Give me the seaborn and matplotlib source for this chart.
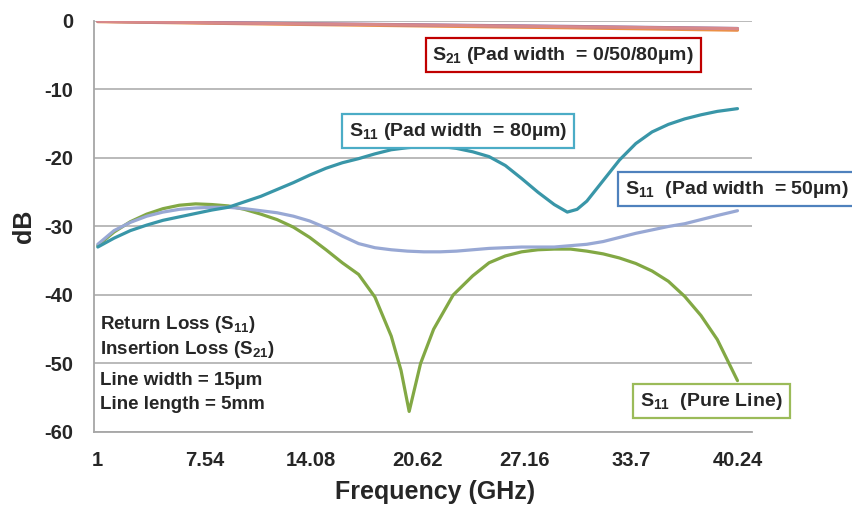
import numpy as np
import pandas as pd
import matplotlib
matplotlib.use("Agg")
import matplotlib.pyplot as plt
import seaborn as sns

# S-parameter sweep values (dB)
freq_ticks = [1, 7.54, 14.08, 20.62, 27.16, 33.7, 40.24]
tick_labels = ["1", "7.54", "14.08", "20.62", "27.16", "33.7", "40.24"]

f_pure = [1, 2, 3, 4, 5, 6, 7, 8, 9, 10, 11, 12, 13, 14, 15, 16, 17, 18, 19, 19.6,
          20.1, 20.8, 21.6, 22.8, 24, 25, 26, 27, 28, 29, 30, 31, 32, 33, 34, 35,
          36, 37, 38, 39, 40.24]
s11_pure = [-32.8, -30.8, -29.3, -28.2, -27.4, -26.9, -26.7, -26.8, -27.0, -27.5,
            -28.2, -29.0, -30.1, -31.6, -33.4, -35.3, -37.0, -40.3, -46.0, -51.0,
            -57.0, -50.0, -45.0, -40.0, -37.2, -35.3, -34.3, -33.7, -33.4, -33.3,
            -33.3, -33.6, -34.0, -34.6, -35.4, -36.5, -38.0, -40.2, -43.0, -46.5,
            -52.5]

f_pad80 = [1, 2, 3, 4, 5, 6, 7, 8, 9, 10, 11, 12, 13, 14, 15, 16, 17, 18, 19, 20,
           21, 22, 23, 24, 25, 26, 27, 28, 29, 29.8, 30.4, 31, 32, 33, 34, 35, 36,
           37, 38, 39, 40.24]
s11_pad80 = [-33.0, -31.7, -30.6, -29.8, -29.1, -28.6, -28.1, -27.6, -27.2, -26.4,
             -25.6, -24.6, -23.6, -22.5, -21.5, -20.7, -20.1, -19.4, -18.8, -18.5,
             -18.3, -18.3, -18.6, -19.1, -19.8, -21.1, -23.0, -25.0, -26.8, -27.9,
             -27.5, -26.3, -23.3, -20.3, -17.9, -16.2, -15.1, -14.3, -13.7, -13.2,
             -12.8]

f_pad50 = [1, 2, 3, 4, 5, 6, 7, 8, 9, 10, 11, 12, 13, 14, 15, 16, 17, 18, 19, 20,
           21, 22, 23, 24, 25, 26, 27, 28, 29, 30, 31, 32, 33, 34, 35, 36, 37, 38,
           39, 40.24]
s11_pad50 = [-32.6, -30.6, -29.4, -28.5, -27.9, -27.5, -27.3, -27.2, -27.2, -27.4,
             -27.7, -28.0, -28.5, -29.2, -30.2, -31.4, -32.5, -33.1, -33.4, -33.6,
             -33.7, -33.7, -33.6, -33.4, -33.2, -33.1, -33.0, -33.0, -33.0, -32.8,
             -32.6, -32.2, -31.6, -31.0, -30.5, -30.0, -29.6, -29.0, -28.4, -27.7]

f_s21 = [1, 10, 20, 30, 40.24]
s21_pad80 = [-0.10, -0.40, -0.70, -1.00, -1.35]
s21_pad50 = [-0.05, -0.30, -0.55, -0.80, -1.10]
s21_pad0 = [-0.05, -0.33, -0.58, -0.85, -1.12]

df = pd.concat([
    pd.DataFrame({"freq": f_s21, "dB": s21_pad80, "curve": "S21 80"}),
    pd.DataFrame({"freq": f_s21, "dB": s21_pad50, "curve": "S21 50"}),
    pd.DataFrame({"freq": f_s21, "dB": s21_pad0, "curve": "S21 0"}),
    pd.DataFrame({"freq": f_pure, "dB": s11_pure, "curve": "S11 pure"}),
    pd.DataFrame({"freq": f_pad50, "dB": s11_pad50, "curve": "S11 50"}),
    pd.DataFrame({"freq": f_pad80, "dB": s11_pad80, "curve": "S11 80"}),
])

palette = {
    "S21 80": "#ec9046",
    "S21 50": "#8a6aa8",
    "S21 0": "#d8898a",
    "S11 pure": "#82a844",
    "S11 50": "#98a8d4",
    "S11 80": "#3996a8",
}

sns.set_style("white")
plt.rcParams["font.family"] = ["Liberation Sans", "DejaVu Sans"]
plt.rcParams["font.weight"] = "bold"
plt.rcParams["axes.unicode_minus"] = False
plt.rcParams["mathtext.fontset"] = "custom"
plt.rcParams["mathtext.rm"] = "Liberation Sans:bold"
plt.rcParams["mathtext.it"] = "Liberation Sans:bold"
plt.rcParams["mathtext.bf"] = "Liberation Sans:bold"

fig, ax = plt.subplots(figsize=(8.52, 5.11), dpi=100)
fig.subplots_adjust(left=0.110, right=0.883, bottom=0.1546, top=0.959)

ax.yaxis.grid(True, color="#b4b4b4", linewidth=1.3)
ax.set_axisbelow(True)

sns.lineplot(data=df, x="freq", y="dB", hue="curve", palette=palette,
             hue_order=list(palette.keys()), linewidth=2.3, legend=False, ax=ax)

ax.set_xlim(0.75, 41.15)
ax.set_ylim(-60, 0)
ax.set_xticks(freq_ticks)
ax.set_xticklabels(tick_labels)
ax.set_yticks(range(-60, 1, 10))
ax.tick_params(axis="both", length=0)
ax.tick_params(axis="y", pad=15, labelsize=14.5)
ax.tick_params(axis="x", pad=14, labelsize=14.5)
for s in ["top", "right"]:
    ax.spines[s].set_visible(False)
for s in ["left", "bottom"]:
    ax.spines[s].set_color("#a6a6a6")
    ax.spines[s].set_linewidth(1.3)

ax.set_xlabel("Frequency (GHz)", fontsize=18, fontweight="bold", labelpad=7)
ax.xaxis.label.set_x(0.518)
ax.set_ylabel("dB", fontsize=18, fontweight="bold", labelpad=6)

# label boxes
boxes = [
    (0.713, 0.917, r"S$_{21}$ (Pad width  = 0/50/80µm)", "#c00000"),
    (0.553, 0.732, r"S$_{11}$ (Pad width  = 80µm)", "#4bacc6"),
    (0.976, 0.591, r"S$_{11}$  (Pad width  = 50µm)", "#4f81bd"),
    (0.938, 0.075, r"S$_{11}$  (Pure Line)", "#9bbb59"),
]
for x, y, txt, col in boxes:
    ax.text(x, y, txt, transform=ax.transAxes, ha="center", va="center",
            fontsize=14, fontweight="bold", clip_on=False,
            bbox=dict(boxstyle="square,pad=0.35", facecolor="white",
                      edgecolor=col, linewidth=1.6))

notes = [
    (0.262, r"Return Loss (S$_{11}$)"),
    (0.200, r"Insertion Loss (S$_{21}$)"),
    (0.126, "Line width = 15µm"),
    (0.068, "Line length = 5mm"),
]
for y, txt in notes:
    ax.text(0.009, y, txt, transform=ax.transAxes, ha="left", va="center",
            fontsize=13.5, fontweight="bold")

plt.savefig("out.png", dpi=100)
